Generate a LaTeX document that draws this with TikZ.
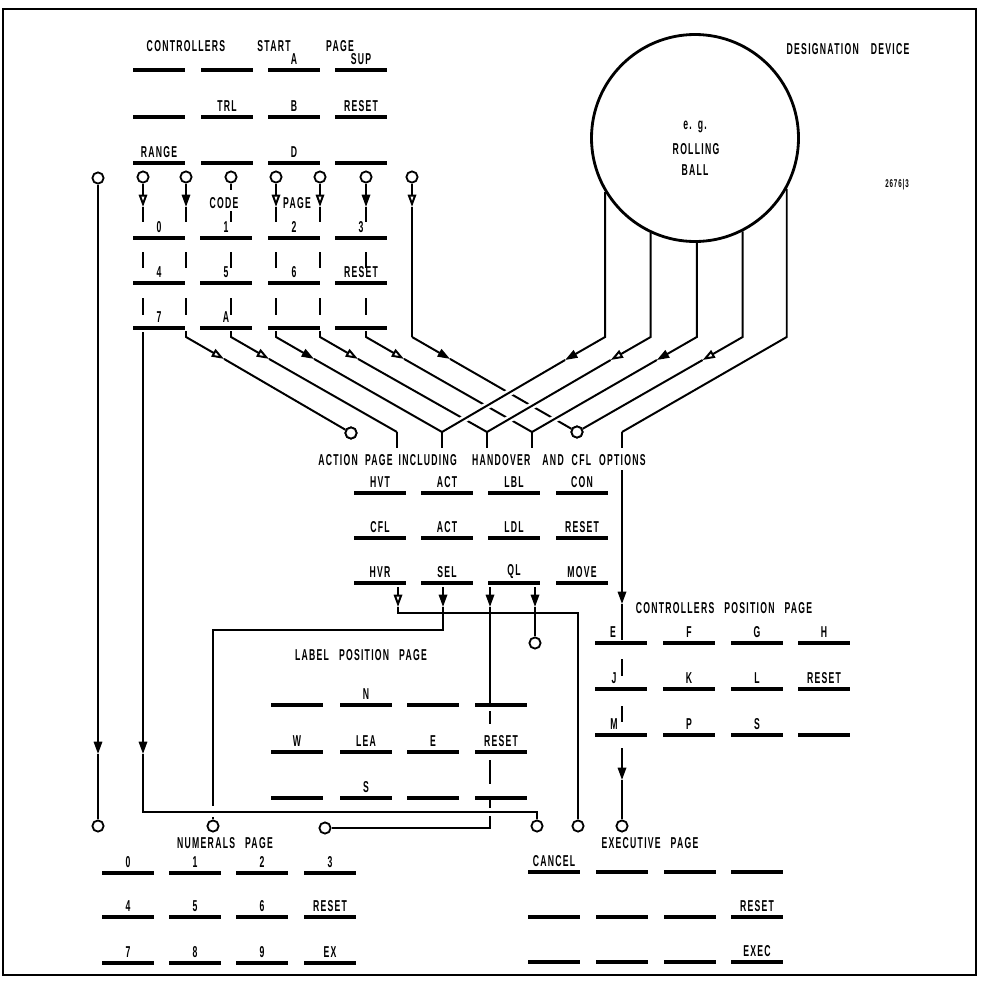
\documentclass[tikz,border=0pt]{standalone}
\usepackage{fontspec}
\setmainfont[FakeStretch=0.55,LetterSpace=8]{Liberation Sans}
\usetikzlibrary{arrows.meta}
\tikzset{
  ln/.style={line width=1.4pt},
  keybar/.style={line width=2.3pt},
  lbl/.style={inner sep=0pt, font=\fontsize{11.2}{13}\selectfont\bfseries},
  small/.style={inner sep=0pt, font=\fontsize{8}{9}\selectfont\bfseries},
  ring/.style={circle, draw, fill=white, line width=1.3pt, minimum size=2.8mm, inner sep=0pt},
  fa/.style={-{Triangle[length=3.1mm,width=2.1mm]}},
  oa/.style={-{Triangle[length=3.1mm,width=2.1mm,fill=white]}},
  gap/.style={preaction={draw=white, line width=5pt, shorten <=1.5mm, shorten >=3mm}},
  frame/.style={line width=0.9pt},
}
\newcommand{\kkey}[5]{% x, y, label, name, label dx
  \draw[keybar] ({#1-26},#2) -- ({#1+26},#2);
  \node[lbl] (#4) at ({#1+#5},{#2-11}) {#3};}
\newcommand{\keyrow}[3]{\foreach \kx/\kl [count=\ki] in {#3} {\kkey{\kx}{#2}{\kl}{#1\ki}{0}}}
\begin{document}
\begin{tikzpicture}[x=0.25mm,y=-0.25mm]
\useasboundingbox (0,0) rectangle (990,983);
\draw[frame] (3,9) rectangle (976,975);

% ---- titles
\node[lbl] (t1a) at (186,46) {CONTROLLERS};
\node[lbl] (t1b) at (274,46) {START};
\node[lbl] (t1c) at (340,46) {PAGE};
\node[lbl] (dd) at (848,49) {DESIGNATION\hspace{3mm}DEVICE};
\node[small] (num) at (897,185) {2676|3};

% ---- designation device
\node[circle, draw, line width=2pt, minimum size=51.75mm, inner sep=0pt] (ball) at (695,138) {};
\node[lbl] (eg) at (695,127) {e.\hspace{1.5mm}g.};
\node[lbl] (rol) at (696,149) {ROLLING};
\node[lbl] (bal) at (695,170) {BALL};

% ---- controllers start page keys
\keyrow{ts}{70}{159/,227/,294/A,361/SUP}
\keyrow{tt}{117}{159/,227/TRL,294/B,361/RESET}
\keyrow{tu}{163}{159/RANGE,227/,294/D,361/}
\node[lbl] (code) at (224,203) {CODE};
\node[lbl] (pg) at (297,203) {PAGE};
\keyrow{ka}{238}{159/0,226/1,294/2,361/3}
\keyrow{kb}{283}{159/4,226/5,294/6,361/RESET}
\keyrow{kc}{328}{159/7,226/A,294/,361/}

% ---- action page
\node[lbl] (act) at (482,460) {ACTION\hspace{1.8mm}PAGE\hspace{1.5mm}INCLUDING\hspace{3.8mm}HANDOVER\hspace{3mm}AND\hspace{2mm}CFL\hspace{2mm}OPTIONS};
\keyrow{aa}{493}{380/HVT,447/ACT,514/LBL,582/CON}
\keyrow{ab}{538}{380/CFL,447/ACT,514/LDL,582/RESET}
\keyrow{ac}{583}{380/HVR,447/SEL,514/QL,582/MOVE}

% ---- label position page
\node[lbl] (lpt) at (361,655) {LABEL\hspace{2.5mm}POSITION\hspace{2.5mm}PAGE};
\keyrow{la}{705}{297/,366/N,433/,501/}
\keyrow{lb}{752}{297/W,366/LEA,433/E,501/RESET}
\keyrow{lc}{798}{297/,366/S,433/,501/}

% ---- controllers position page
\node[lbl] (cpt) at (724,608) {CONTROLLERS\hspace{2.5mm}POSITION\hspace{2.5mm}PAGE};
\kkey{621}{643}{E}{pa1}{-8}
\kkey{621}{689}{J}{pb1}{-7}
\kkey{621}{735}{M}{pc1}{-7}
\keyrow{pa}{643}{689/F,757/G,824/H}
\keyrow{pb}{689}{689/K,757/L,824/RESET}
\keyrow{pc}{735}{689/P,757/S,824/}

% ---- numerals page
\node[lbl] (npt) at (225,843) {NUMERALS\hspace{2.5mm}PAGE};
\keyrow{na}{873}{128/0,195/1,262/2,330/3}
\keyrow{nb}{917}{128/4,195/5,262/6,330/RESET}
\keyrow{nc}{963}{128/7,195/8,262/9,330/EX}

% ---- executive page
\node[lbl] (ept) at (650,843) {EXECUTIVE\hspace{2.5mm}PAGE};
\keyrow{ea}{872}{554/CANCEL,622/,690/,757/}
\keyrow{eb}{917}{554/,622/,690/,757/RESET}
\keyrow{ec}{962}{554/,622/,690/,757/EXEC}

% ---- circles
\node[ring] (c0) at (98,178) {};
\node[ring] (c1) at (143,177) {};
\node[ring] (c2) at (186,177) {};
\node[ring] (c3) at (231,177) {};
\node[ring] (c4) at (276,177) {};
\node[ring] (c5) at (320,177) {};
\node[ring] (c6) at (366,177) {};
\node[ring] (c7) at (412,177) {};
\coordinate (vA) at (397,432);
\coordinate (vB) at (442,432);
\coordinate (vC) at (487,432);
\coordinate (vD) at (532,432);
\coordinate (vE) at (622,432);
\coordinate (bl) at (0,337);
\coordinate (stubend) at (0,448);

% ---- top vertical lines
\draw[ln,oa] (c1) -- (143,207); \draw[ln] (143,207) -- (143,222);
\draw[ln,fa] (c2) -- (186,207); \draw[ln] (186,207) -- (186,222);
\draw[ln] (c3) -- (231,190); \draw[ln] (231,211) -- (231,222);
\draw[ln,oa] (c4) -- (276,207); \draw[ln] (276,207) -- (276,222);
\draw[ln,oa] (c5) -- (320,207); \draw[ln] (320,207) -- (320,222);
\draw[ln,fa] (c6) -- (366,207); \draw[ln] (366,207) -- (366,222);
\draw[ln,oa] (c7) -- (412,207); \draw[ln] (412,207) -- (412,337);
\foreach \x in {143,186,231,276,320,366} {
  \draw[ln] (\x,252) -- (\x,268);
  \draw[ln] (\x,298) -- (\x,315);
}

% ---- keypad diagonals
\node[ring] (cA) at (351,433) {};
\node[ring] (cB) at (577,432) {};
\foreach \x/\tgt/\st [count=\i] in {186/cA/oa,231/vA/oa,276/vB/fa,320/vC/oa,366/vD/oa} {
  \draw[ln,\st] (\x,331) -- (\x,337) -- ++(38,21.9) coordinate (p\i);
  \draw[ln] (p\i) -- (\tgt);
}
\draw[ln,fa] (412,337) -- ++(38,21.9) coordinate (p6);
\draw[ln] (p6) -- (cB);

% ---- designation device lines
\foreach \a/\tgt/\st [count=\i] in {211.8/vB/fa,245.4/vC/oa,271.1/vD/fa,297/cB/oa} {
  \draw[ln,\st] (ball.\a) -- (ball.\a |- bl) -- ++(-40,23) coordinate (q\i);
  \draw[ln,gap] (q\i) -- (\tgt);
}
\draw[ln] (ball.331.6) -- (ball.331.6 |- bl) -- (vE);
\node[ring] at (cA) {};
\node[ring] at (cB) {};
\foreach \v in {vA,vB,vC,vD,vE} \draw[ln] (\v) -- (\v |- stubend);

% ---- options line to controllers position page and executive page
\node[ring] (bOPT) at (622,826) {};
\draw[ln,fa] (622,470) -- (622,604); \draw[ln] (622,604) -- (622,640);
\draw[ln] (622,659) -- (622,676);
\draw[ln] (622,706) -- (622,722);
\draw[ln,fa] (622,748) -- (622,780); \draw[ln] (622,780) -- (bOPT);

% ---- action page outputs
\node[ring] (bHVR) at (578,826) {};
\node[ring] (bSEL) at (213,826) {};
\node[ring] (bQL) at (325,828) {};
\node[ring] (bMOVE) at (535,643) {};
\node[ring] (bL1) at (537,826) {};
\node[ring] (b0) at (98,826) {};
\draw[ln,oa] (398,587) -- (398,607); \draw[ln] (398,607) -- (398,613) -- (578,613) -- (bHVR);
\draw[ln,fa] (443,587) -- (443,607); \draw[ln] (443,607) -- (443,630) -- (213,630) -- (213,806);
\draw[ln] (213,817) -- (bSEL);
\draw[ln,fa] (490,587) -- (490,607); \draw[ln] (490,607) -- (490,705);
\draw[ln] (490,711) -- (490,724);
\draw[ln] (490,760) -- (490,784);
\draw[ln] (490,800) -- (490,808);
\draw[ln] (490,816) -- (490,828) -- (bQL);
\draw[ln,fa] (535,587) -- (535,607); \draw[ln] (535,607) -- (bMOVE);

% ---- long left lines
\draw[ln,fa] (c0) -- (98,754); \draw[ln] (98,754) -- (b0);
\draw[ln,fa] (143,332) -- (143,754); \draw[ln] (143,754) -- (143,812) -- (537,812) -- (bL1);
\end{tikzpicture}
\end{document}
